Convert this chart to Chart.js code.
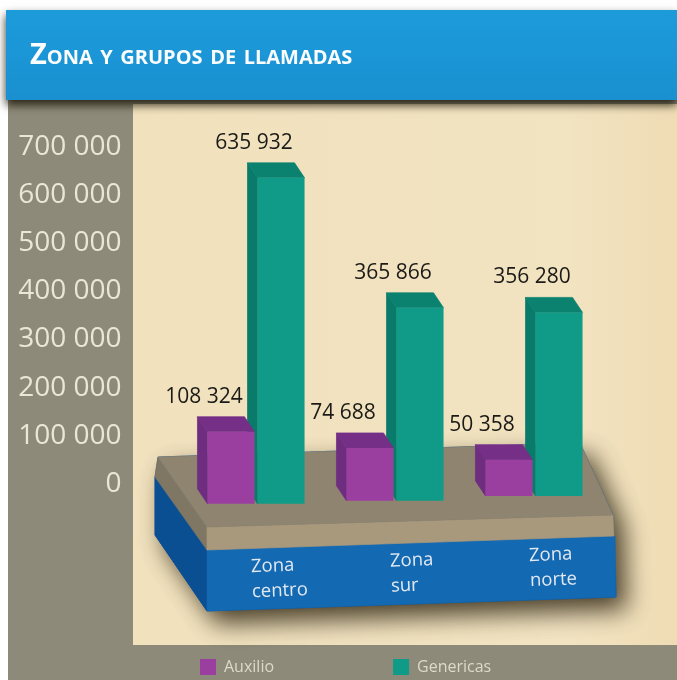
<!DOCTYPE html>
<html>
<head>
<meta charset="utf-8">
<style>html,body{margin:0;padding:0;background:#fff}canvas{display:block}</style>
<script src="https://cdn.jsdelivr.net/npm/chart.js@4"></script>
</head>
<body>
<canvas id="c" width="677" height="680"></canvas>
<script>
const titleText = 'Zona y grupos de llamadas';
const categories = [['Zona','centro'],['Zona','sur'],['Zona','norte']];
const auxilio = [108324, 74688, 50358];
const genericas = [635932, 365866, 356280];
// where each bar's foot sits on the tilted platform, in axis units
const barFoot = [-41500, -35000, -25000];

const fmt = v => String(v).replace(/\B(?=(\d{3})+$)/g, ' ');
const DEPTH = {x: -10, y: -15};
const faces = {
  0: {left: '#6f2d80', top: '#752f86'},
  1: {left: '#0a7a6a', top: '#0b8270'}
};

function poly(ctx, pts, fill) {
  ctx.beginPath();
  pts.forEach((p, i) => i ? ctx.lineTo(p[0], p[1]) : ctx.moveTo(p[0], p[1]));
  ctx.closePath();
  ctx.fillStyle = fill;
  ctx.fill();
  ctx.strokeStyle = fill;
  ctx.lineWidth = 0.7;
  ctx.stroke();
}

const scenery = {
  id: 'scenery',
  beforeLayout(chart) {
    // keep the bottom legend out of the layout's space sharing
    chart.legend.position = 'chartArea';
  },
  beforeDraw(chart) {
    const ctx = chart.ctx;
    const W = chart.width, H = chart.height;
    ctx.save();
    ctx.fillStyle = '#ffffff'; ctx.fillRect(0, 0, W, H);
    // grey frame
    ctx.fillStyle = '#8d8a79'; ctx.fillRect(8, 100, W - 8, H - 100);
    // cream panel
    const g = ctx.createLinearGradient(133, 0, W, 0);
    g.addColorStop(0, '#f1e1bd'); g.addColorStop(0.8, '#f2e3c1'); g.addColorStop(1, '#efdcb4');
    ctx.fillStyle = g; ctx.fillRect(133, 104, W - 133, 541);
    // header with its shadow
    ctx.save();
    ctx.shadowColor = 'rgba(30,25,10,0.9)'; ctx.shadowBlur = 9; ctx.shadowOffsetY = 5;
    const h = ctx.createLinearGradient(0, 10, 0, 100);
    h.addColorStop(0, '#1c9bdb'); h.addColorStop(1, '#1a90d0');
    ctx.fillStyle = h; ctx.fillRect(6, 10, W - 6, 90);
    ctx.restore();
    // title
    ctx.fillStyle = '#fbfdfe';
    ctx.textBaseline = 'alphabetic'; ctx.textAlign = 'left';
    ctx.font = 'small-caps 700 29px "Open Sans"';
    ctx.fillText(titleText, 30, 64);
    // platform
    ctx.save();
    ctx.shadowColor = 'rgba(45,35,15,0.85)'; ctx.shadowBlur = 24; ctx.shadowOffsetX = 10; ctx.shadowOffsetY = 12;
    poly(ctx, [[158,457],[580,443],[613,515],[616,597],[207,611],[155,535],[155,477]], '#0b4f92');
    ctx.restore();
    poly(ctx, [[155,477],[207,550],[207,611],[155,535]], '#0b4f93');
    poly(ctx, [[207,550],[615,536],[616,597],[207,611]], '#1369b2');
    poly(ctx, [[158,457],[207,527],[207,550],[155,477]], '#7f7663');
    poly(ctx, [[207,527],[613,515],[614,536],[207,550]], '#a8987c');
    poly(ctx, [[158,457],[580,443],[613,515],[207,527]], '#8f8470');
    ctx.restore();
  },
  afterDatasetsUpdate(chart) {
    const y = chart.scales.y;
    chart.data.datasets.forEach((ds, d) => {
      chart.getDatasetMeta(d).data.forEach((bar, i) => {
        bar.base = y.getPixelForValue(barFoot[i]);
        bar.height = bar.base - bar.y;
      });
    });
  },
  beforeDatasetDraw(chart, args) {
    const ctx = chart.ctx, f = faces[args.index];
    ctx.save();
    args.meta.data.forEach(bar => {
      const l = bar.x - bar.width / 2, r = bar.x + bar.width / 2;
      poly(ctx, [[l, bar.y], [l + DEPTH.x, bar.y + DEPTH.y], [l + DEPTH.x, bar.base + DEPTH.y], [l, bar.base]], f.left);
      poly(ctx, [[l, bar.y], [l + DEPTH.x, bar.y + DEPTH.y], [r + DEPTH.x, bar.y + DEPTH.y], [r, bar.y]], f.top);
    });
    ctx.restore();
  },
  afterDatasetsDraw(chart) {
    const ctx = chart.ctx;
    ctx.save();
    // value labels
    ctx.fillStyle = '#1b1a17';
    ctx.font = '21px "Open Sans"';
    ctx.textAlign = 'center'; ctx.textBaseline = 'middle';
    chart.data.datasets.forEach((ds, d) => {
      chart.getDatasetMeta(d).data.forEach((bar, i) => {
        ctx.fillText(fmt(ds.data[i]), bar.x - 27, bar.y - 35);
      });
    });
    // category labels printed on the tilted slab
    const x = chart.scales.x;
    ctx.fillStyle = '#e3e9f2';
    ctx.font = '18.5px "Open Sans"';
    ctx.textAlign = 'left';
    chart.data.labels.forEach((lines, i) => {
      const px = x.getPixelForValue(i) - 5;
      const py = 567 - 0.04 * (px - 251);
      ctx.save();
      ctx.translate(px, py);
      ctx.rotate(-0.04);
      lines.forEach((t, k) => ctx.fillText(t, 0, k * 25));
      ctx.restore();
    });
    ctx.restore();
  },
  afterLayout(chart) {
    const lg = chart.legend;
    const pad = lg.options.labels.padding;
    lg.update(677, 400, {left: 0, top: 0, right: 0, bottom: 0});
    lg.left = 200 - pad; lg.right = lg.left + lg.width;
    lg.top = 659 - pad; lg.bottom = lg.top + lg.height;
  }
};

new Chart(document.getElementById('c'), {
  type: 'bar',
  plugins: [scenery],
  data: {
    labels: categories,
    datasets: [
      {label: 'Auxilio', data: auxilio, backgroundColor: '#9a3f9f'},
      {label: 'Genericas', data: genericas, backgroundColor: '#0f9b87'}
    ]
  },
  options: {
    responsive: false,
    animation: false,
    events: [],
    barPercentage: 0.94,
    categoryPercentage: 0.72,
    layout: {padding: {left: 0, right: 73.5, top: 147, bottom: 148}},
    plugins: {
      tooltip: {enabled: false},
      title: {display: false},
      legend: {
        position: 'bottom',
        align: 'start',
        labels: {
          boxWidth: 16, boxHeight: 16, padding: 119,
          color: '#dedaca',
          font: {family: '"Open Sans"', size: 16}
        }
      }
    },
    scales: {
      x: {
        display: false,
        grid: {display: false},
        border: {display: false},
        ticks: {display: false}
      },
      y: {
        min: -100000, max: 700000,
        afterFit(s) { s.width = 186.5; },
        afterBuildTicks(s) { s.ticks = s.ticks.filter(t => t.value >= 0); },
        grid: {display: false, drawTicks: false},
        border: {display: false},
        ticks: {
          stepSize: 100000,
          padding: 65,
          color: '#ebe6d7',
          font: {family: '"Open Sans"', size: 28, weight: '400'},
          callback: v => fmt(v)
        }
      }
    }
  }
});
</script>
</body>
</html>
